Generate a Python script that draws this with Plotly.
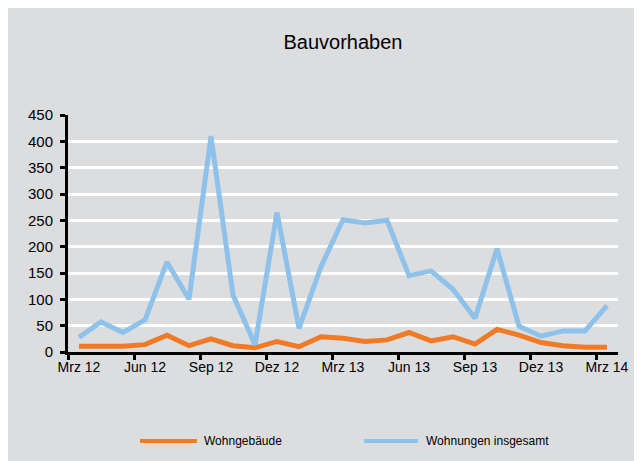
import plotly.graph_objects as go

months = ["Mrz 12", "Apr 12", "Mai 12", "Jun 12", "Jul 12", "Aug 12", "Sep 12", "Okt 12",
          "Nov 12", "Dez 12", "Jan 13", "Feb 13", "Mrz 13", "Apr 13", "Mai 13", "Jun 13",
          "Jul 13", "Aug 13", "Sep 13", "Okt 13", "Nov 13", "Dez 13", "Jan 14", "Feb 14", "Mrz 14"]
wohngebaeude = [11, 11, 11, 14, 32, 12, 25, 12, 8, 20, 10, 29, 26, 20, 23, 37, 21, 29, 15, 43, 32, 18, 12, 9, 9]
wohnungen = [28, 57, 37, 61, 171, 100, 410, 108, 14, 265, 45, 162, 251, 245, 250, 145, 154, 119, 64, 196, 49, 30, 40, 40, 88]
tick_labels = ["Mrz 12", "Jun 12", "Sep 12", "Dez 12", "Mrz 13", "Jun 13", "Sep 13", "Dez 13", "Mrz 14"]
y_ticks = list(range(0, 451, 50))
series_names = ["Wohngebäude", "Wohnungen insgesamt"]
series_colors = ["#F07A26", "#8EC2EA"]

idx = list(range(len(months)))
tick_pos = [months.index(t) for t in tick_labels]

fig = go.Figure()
for name, vals, col in zip(series_names, [wohngebaeude, wohnungen], series_colors):
    fig.add_trace(go.Scatter(x=idx, y=vals, mode="lines", name=name,
                             line=dict(color=col, width=5), showlegend=False))

W, H = 642, 461
L, R, T, B = 60, 32, 107, 117
pw, ph = W - L - R, H - T - B


def px_x(px):
    return (px - L) / pw


def px_y(py):
    return (T + ph - py) / ph


# manual legend (long line samples like the original)
legend_y = 433
legend_items = [(132, 189, 194), (356, 410, 416)]
shapes = []
annotations = []
for (x0, x1, xt), name, col in zip(legend_items, series_names, series_colors):
    shapes.append(dict(type="line", xref="paper", yref="paper", x0=px_x(x0), x1=px_x(x1),
                       y0=px_y(legend_y), y1=px_y(legend_y), line=dict(color=col, width=4)))
    annotations.append(dict(text=name, xref="paper", yref="paper", x=px_x(xt), y=px_y(legend_y),
                            xanchor="left", yanchor="middle", showarrow=False,
                            font=dict(size=12, color="#000000")))

fig.update_layout(
    width=W, height=H,
    margin=dict(l=L, r=R, t=T, b=B, pad=0),
    paper_bgcolor="#DCDDDF",
    plot_bgcolor="#DCDDDF",
    font=dict(family="Liberation Sans, Arial, sans-serif", color="#000000", size=13),
    title=dict(text="Bauvorhaben", x=0.5, xanchor="center", xref="paper",
               y=(H - 34) / H, yanchor="middle", yref="container",
               font=dict(size=20, color="#000000")),
    showlegend=False,
    xaxis=dict(range=[-0.5, len(months) - 0.5], tickvals=tick_pos, ticktext=tick_labels,
               ticks="", showgrid=False, zeroline=False,
               showline=True, linecolor="#000000", linewidth=3,
               tickfont=dict(size=14),
               minor=dict(tickvals=[p - 0.5 for p in tick_pos], ticks="outside",
                          ticklen=5, tickwidth=3, tickcolor="#000000", showgrid=False)),
    yaxis=dict(range=[0, 450], tickvals=y_ticks, ticks="outside", ticklen=5, tickwidth=3,
               tickcolor="#000000", showgrid=True, gridcolor="#FFFFFF", gridwidth=3,
               zeroline=False, showline=True, linecolor="#000000", linewidth=3,
               ticklabelstandoff=4,
               tickfont=dict(size=15)),
    shapes=shapes,
    annotations=annotations,
)

fig.write_html("out.html")
